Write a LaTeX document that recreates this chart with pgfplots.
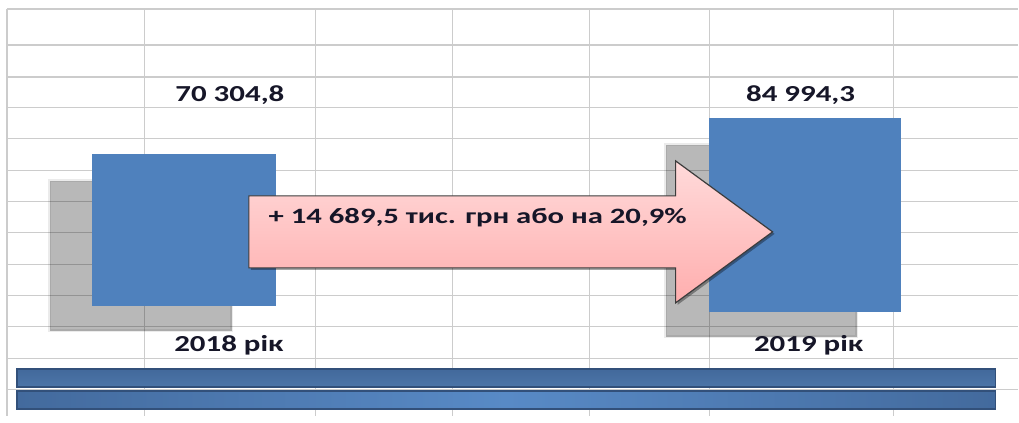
\documentclass[border=0pt]{standalone}
\usepackage{pgfplots}
\pgfplotsset{compat=1.18}
\usepackage{fontspec}
\setmainfont{Carlito}
\definecolor{gridc}{RGB}{204,204,204}
\definecolor{barblue}{RGB}{79,129,189}
\definecolor{txt}{RGB}{22,22,40}
\definecolor{pinktop}{RGB}{255,218,218}
\definecolor{pinkbot}{RGB}{255,174,174}
\definecolor{arrowedge}{RGB}{60,60,60}
\definecolor{bandA}{RGB}{66,105,155}
\definecolor{bandAl}{RGB}{76,117,168}
\definecolor{bandB}{RGB}{67,106,157}
\definecolor{bandBm}{RGB}{88,138,198}
\definecolor{bandedge}{RGB}{50,80,122}
\begin{document}
\begin{tikzpicture}
\begin{axis}[
  scale only axis,
  width=1012bp, height=407bp,
  xmin=7, xmax=1019, ymin=0, ymax=407,
  clip=false,
  axis line style={draw=none},
  major tick length=0pt,
  xtick={7,145,316,453,590,710,894},
  ytick={26,57,89,120,151,183,214,245,277,308,339,371,407},
  xticklabels={}, yticklabels={},
  grid=major,
  grid style={color=gridc, line width=1.1bp},
]
% invisible frame to set the picture size
\addplot[draw=none, forget plot] coordinates {(0,0) (1019,416)};
% shadows
\addplot[draw=black, draw opacity=0.08, line width=3bp, fill=black, fill opacity=0.28]
  coordinates {(50,85) (232,85) (232,235) (50,235)} -- cycle;
\addplot[draw=black, draw opacity=0.08, line width=3bp, fill=black, fill opacity=0.28]
  coordinates {(666,79) (857,79) (857,271) (666,271)} -- cycle;
% blue bars (70 304,8 and 84 994,3)
\addplot[draw=none, fill=barblue]
  coordinates {(92,110) (276,110) (276,262) (92,262)} -- cycle;
\addplot[draw=none, fill=barblue]
  coordinates {(709,104) (901,104) (901,298) (709,298)} -- cycle;
% arrow shadow
\addplot[draw=none, fill=black, fill opacity=0.35]
  coordinates {(251,218) (678,218) (678,253) (775,182) (678,111) (678,146) (251,146)} -- cycle;
% arrow
\addplot[draw=arrowedge, line width=1.2bp, top color=pinktop, bottom color=pinkbot]
  coordinates {(249,220) (676,220) (676,255) (773,184) (676,113) (676,148) (249,148)} -- cycle;
% bottom bands
\addplot[draw=bandedge, line width=1.6bp, top color=bandA, bottom color=bandAl]
  coordinates {(17,29) (996,29) (996,47) (17,47)} -- cycle;
\addplot[draw=bandedge, line width=1.6bp, left color=bandB, right color=bandB, middle color=bandBm]
  coordinates {(17,7) (996,7) (996,25) (17,25)} -- cycle;
% labels
\node[text=txt, font=\fontsize{23}{26}\selectfont\bfseries, xscale=1.35] at (axis cs:230,321) {70 304,8};
\node[text=txt, font=\fontsize{23}{26}\selectfont\bfseries, xscale=1.35] at (axis cs:801,321) {84 994,3};
\node[text=txt, font=\fontsize{23}{26}\selectfont\bfseries, xscale=1.35] at (axis cs:229,71) {2018 рік};
\node[text=txt, font=\fontsize{23}{26}\selectfont\bfseries, xscale=1.35] at (axis cs:809,71) {2019 рік};
\node[text=txt, font=\fontsize{22}{26}\selectfont\bfseries, xscale=1.4] at (axis cs:478,198) {+ 14 689,5 тис. грн або на 20,9\%};
\end{axis}
\end{tikzpicture}
\end{document}
